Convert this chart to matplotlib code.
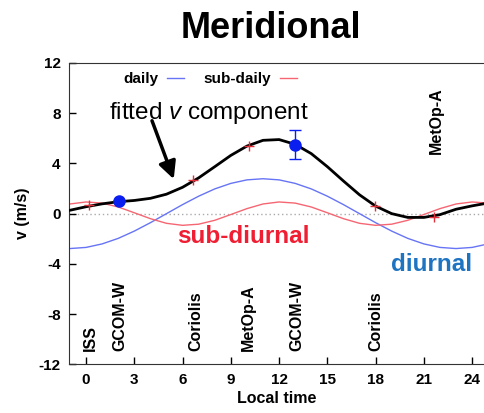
import numpy as np
import matplotlib
matplotlib.use('Agg')
import matplotlib.pyplot as plt

plt.rcParams['font.family'] = ['Liberation Sans', 'DejaVu Sans']
plt.rcParams['mathtext.fontset'] = 'custom'
plt.rcParams['mathtext.rm'] = 'Liberation Sans'
plt.rcParams['mathtext.it'] = 'Liberation Sans:italic'
plt.rcParams['axes.unicode_minus'] = False

# hourly local time grid for the curves
hours = [-1, 0, 1, 2, 3, 4, 5, 6, 7, 8, 9, 10, 11, 12,
         13, 14, 15, 16, 17, 18, 19, 20, 21, 22, 23, 24, 25]

# diurnal (daily) component, m/s
daily = [-2.78, -2.69, -2.41, -1.97, -1.39, -0.72, 0.0, 0.72, 1.39, 1.97,
         2.41, 2.69, 2.78, 2.69, 2.41, 1.97, 1.39, 0.72, 0.0, -0.72,
         -1.39, -1.97, -2.41, -2.69, -2.78, -2.69, -2.41]

# semi-diurnal (sub-daily) component, m/s
sub_daily = [0.77, 0.93, 0.84, 0.53, 0.07, -0.40, -0.77, -0.93, -0.84, -0.53,
             -0.07, 0.40, 0.77, 0.93, 0.84, 0.53, 0.07, -0.40, -0.77, -0.93,
             -0.84, -0.53, -0.07, 0.40, 0.77, 0.93, 0.84]

# fitted meridional wind
fitted = [0.27, 0.55, 0.78, 0.95, 1.05, 1.22, 1.55, 2.10, 2.85, 3.74,
          4.64, 5.38, 5.84, 5.90, 5.52, 4.78, 3.74, 2.60, 1.50, 0.60,
          0.00, -0.30, -0.30, -0.08, 0.35, 0.62, 0.85]

# observations used in the fit
obs_t = [0.2, 6.65, 10.1, 17.95, 21.6]
obs_v = [0.66, 2.66, 5.38, 0.58, -0.27]
mean_t = [2.05, 13.0]
mean_v = [1.0, 5.5]
mean_err = [0.0, 1.15]

# satellite overpass labels
sat_names = ['ISS', 'GCOM-W', 'Coriolis', 'MetOp-A', 'GCOM-W', 'Coriolis']
sat_times = [0.25, 2.1, 6.8, 10.1, 13.1, 18.0]

fig = plt.figure(figsize=(4.85, 4.13), dpi=100)
ax = fig.add_axes([0.1423, 0.1179, 0.8577, 0.7296])

ax.axhline(0, color='#aaaaaa', lw=1, ls=(0, (1, 2)), zorder=1)
ax.plot(hours, daily, color='#6674f5', lw=1.0, label='daily', zorder=2)
ax.plot(hours, sub_daily, color='#f56672', lw=1.0, label='sub-daily', zorder=2)
ax.plot(hours, fitted, color='black', lw=2.0, zorder=3)
ax.plot(obs_t, obs_v, '+', color='#e0303a', ms=7, mew=1.0, zorder=4)
ax.errorbar(mean_t, mean_v, yerr=mean_err, fmt='o', color='#0a1ef0',
            ms=8, elinewidth=1.0, capsize=4, capthick=1.0, zorder=5)

for name, t in zip(sat_names, sat_times):
    ax.text(t, -10.95, name, rotation=90, ha='center', va='bottom',
            fontsize=11.5, fontweight='bold')
ax.text(21.8, 7.4, 'MetOp-A', rotation=90, ha='center', va='center',
        fontsize=11.5, fontweight='bold')

ax.text(7.67, 7.52, 'fitted $v$ component', ha='center', va='baseline',
        fontsize=17.5)
ax.annotate('', xy=(5.45, 2.75), xytext=(4.1, 7.4),
            arrowprops=dict(arrowstyle='-|>', lw=2.5, color='black',
                            mutation_scale=26, shrinkA=0, shrinkB=0))
ax.text(9.81, -2.32, 'sub-diurnal', ha='center', va='baseline',
        fontsize=17.5, fontweight='bold', color='#f01e32')
ax.text(21.49, -4.54, 'diurnal', ha='center', va='baseline',
        fontsize=17.5, fontweight='bold', color='#1f74c2')

ax.set_xlim(-1.06, 24.8)
ax.set_ylim(-12, 12)
ax.set_xticks(range(0, 25, 3))
ax.set_yticks(range(-12, 13, 4))
ax.tick_params(direction='in', length=5, width=1, labelsize=11, pad=6)
for lbl in ax.get_xticklabels() + ax.get_yticklabels():
    lbl.set_fontweight('bold')
ax.spines['right'].set_visible(False)
for s in ['left', 'bottom', 'top']:
    ax.spines[s].set_color('#333333')

ax.set_xlabel('Local time', fontsize=11.5, fontweight='bold', labelpad=3)
ax.set_ylabel('v (m/s)', fontsize=11.5, fontweight='bold', labelpad=6)

ax.legend(loc='center left', bbox_to_anchor=(0.13, 0.947), ncol=2,
          frameon=False, markerfirst=False, handlelength=1.1,
          handletextpad=0.6, columnspacing=1.25, borderpad=0,
          borderaxespad=0, prop={'size': 11, 'weight': 'bold'})

fig.text(0.558, 0.908, 'Meridional', ha='center', va='baseline',
         fontsize=26, fontweight='bold')

fig.savefig('out.png', dpi=100)
